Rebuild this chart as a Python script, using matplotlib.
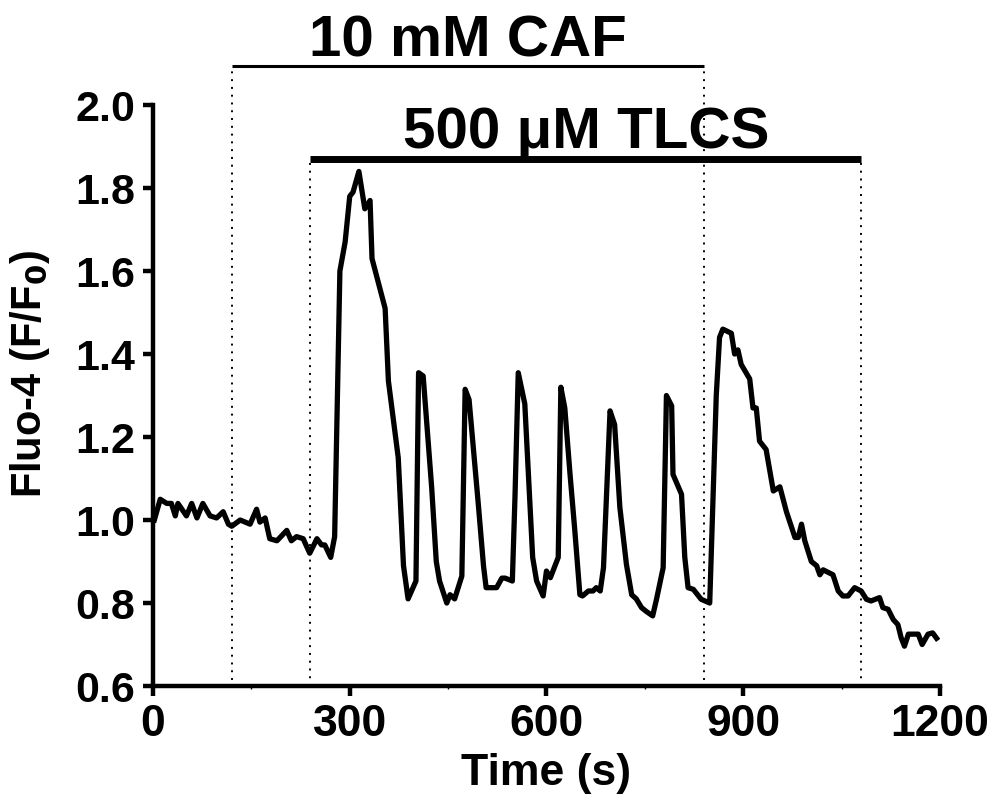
import matplotlib
matplotlib.use("Agg")
import matplotlib.pyplot as plt
from matplotlib.ticker import MultipleLocator

plt.rcParams['font.family'] = ['Liberation Sans', 'DejaVu Sans']
plt.rcParams['font.weight'] = 'bold'

# Tiempo (s) y senal Fluo-4 (F/F0)
tiempo = [2, 11, 21, 28, 34, 38, 51, 59, 67, 76, 87, 97, 107, 115, 120, 133,
          148, 158, 163, 171, 178, 189, 204, 211, 219, 229, 239, 250, 257, 262,
          271, 277, 285, 293, 300, 305, 314, 323, 331, 334, 354, 359, 374, 382,
          389, 401, 405, 412, 425, 432, 437, 448, 453, 460, 471, 476, 482, 496,
          504, 508, 524, 532, 537, 548, 552, 557, 567, 579, 585, 595, 600, 606,
          618, 622, 628, 636, 643, 651, 655, 664, 671, 676, 682, 687, 697, 704,
          712, 722, 730, 737, 745, 752, 762, 768, 778, 783, 791, 793, 806, 811,
          816, 824, 836, 849, 854, 859, 864, 869, 882, 887, 892, 897, 910, 915,
          920, 925, 935, 946, 956, 966, 979, 984, 989, 994, 1004, 1012, 1017,
          1022, 1037, 1045, 1052, 1060, 1070, 1080, 1088, 1095, 1108, 1113,
          1121, 1129, 1136, 1141, 1146, 1152, 1167, 1173, 1182, 1189, 1195]
fluo = [1.00, 1.05, 1.04, 1.04, 1.01, 1.04, 1.01, 1.04, 1.005, 1.04, 1.01,
        1.005, 1.02, 0.99, 0.985, 1.00, 0.99, 1.026, 0.995, 1.005, 0.955, 0.95,
        0.975, 0.95, 0.96, 0.955, 0.92, 0.955, 0.94, 0.94, 0.91, 0.96, 1.60,
        1.67, 1.78, 1.79, 1.84, 1.75, 1.77, 1.63, 1.51, 1.335, 1.15, 0.89, 0.81,
        0.853, 1.355, 1.347, 1.078, 0.90, 0.853, 0.80, 0.82, 0.81, 0.865, 1.315,
        1.29, 1.04, 0.89, 0.837, 0.837, 0.86, 0.86, 0.853, 1.054, 1.355, 1.28,
        0.91, 0.853, 0.817, 0.877, 0.861, 0.91, 1.32, 1.27, 1.11, 0.98, 0.82,
        0.817, 0.829, 0.829, 0.837, 0.829, 0.885, 1.263, 1.23, 1.03, 0.893,
        0.82, 0.81, 0.789, 0.78, 0.769, 0.81, 0.885, 1.30, 1.275, 1.11, 1.062,
        0.91, 0.837, 0.833, 0.809, 0.80, 1.046, 1.30, 1.44, 1.46, 1.45, 1.40,
        1.41, 1.375, 1.34, 1.27, 1.27, 1.19, 1.17, 1.07, 1.08, 1.02, 0.958,
        0.958, 0.99, 0.95, 0.90, 0.89, 0.868, 0.88, 0.868, 0.829, 0.817, 0.817,
        0.837, 0.829, 0.809, 0.805, 0.813, 0.789, 0.785, 0.76, 0.748, 0.716,
        0.696, 0.725, 0.725, 0.70, 0.725, 0.728, 0.715]

# Tratamientos: inicio, fin, etiqueta
caf = (120, 840, "10 mM CAF")
tlcs = (240, 1080, "500 \u03bcM TLCS")

fig = plt.figure(figsize=(9.91, 7.94), dpi=100)
ax = fig.add_axes([0.1544, 0.136, 0.794, 0.7317])

ax.plot(tiempo, fluo, color='black', lw=3.8)

# Barras de los tratamientos y lineas punteadas
ax.plot([caf[0], caf[1]], [2.094, 2.094], color='black', lw=2.2, clip_on=False,
        solid_capstyle='butt')
ax.plot([tlcs[0], tlcs[1]], [1.87, 1.87], color='black', lw=5, clip_on=False,
        solid_capstyle='butt')
for t in caf[:2]:
    ax.plot([t, t], [0.615, 2.094], color='black', lw=1.4, ls=(0, (1, 3)),
            clip_on=False)
for t in tlcs[:2]:
    ax.plot([t, t], [0.6, 1.87], color='black', lw=1.4, ls=(0, (1, 3)),
            clip_on=False)

ax.text(480, 2.118, caf[2], ha='center', va='baseline', fontsize=42,
        fontweight='bold', clip_on=False)
ax.text(660, 1.896, tlcs[2], ha='center', va='baseline', fontsize=42,
        fontweight='bold', clip_on=False)

ax.set_xlim(0, 1200)
ax.set_ylim(0.6, 2.0)
ax.set_xticks([0, 300, 600, 900, 1200])
ax.set_yticks([0.6, 0.8, 1.0, 1.2, 1.4, 1.6, 1.8, 2.0])
ax.set_yticklabels(["0.6", "0.8", "1.0", "1.2", "1.4", "1.6", "1.8", "2.0"])
ax.xaxis.set_minor_locator(MultipleLocator(150))

for s in ['top', 'right']:
    ax.spines[s].set_visible(False)
for s in ['left', 'bottom']:
    ax.spines[s].set_linewidth(3.2)

ax.tick_params(axis='both', which='major', direction='out', length=7, width=3.2)
ax.tick_params(axis='x', which='major', labelsize=32, pad=6)
ax.tick_params(axis='y', which='major', labelsize=31, pad=6)
ax.tick_params(axis='x', which='minor', length=2, width=1)

ax.set_xlabel("Time (s)", fontsize=32, fontweight='bold', labelpad=6)
ax.set_ylabel("Fluo-4 (F/F$_\\mathbf{0}$)", fontsize=30, fontweight='bold')
ax.yaxis.set_label_coords(-0.128, 0.537)

fig.savefig("out.png", dpi=100)
